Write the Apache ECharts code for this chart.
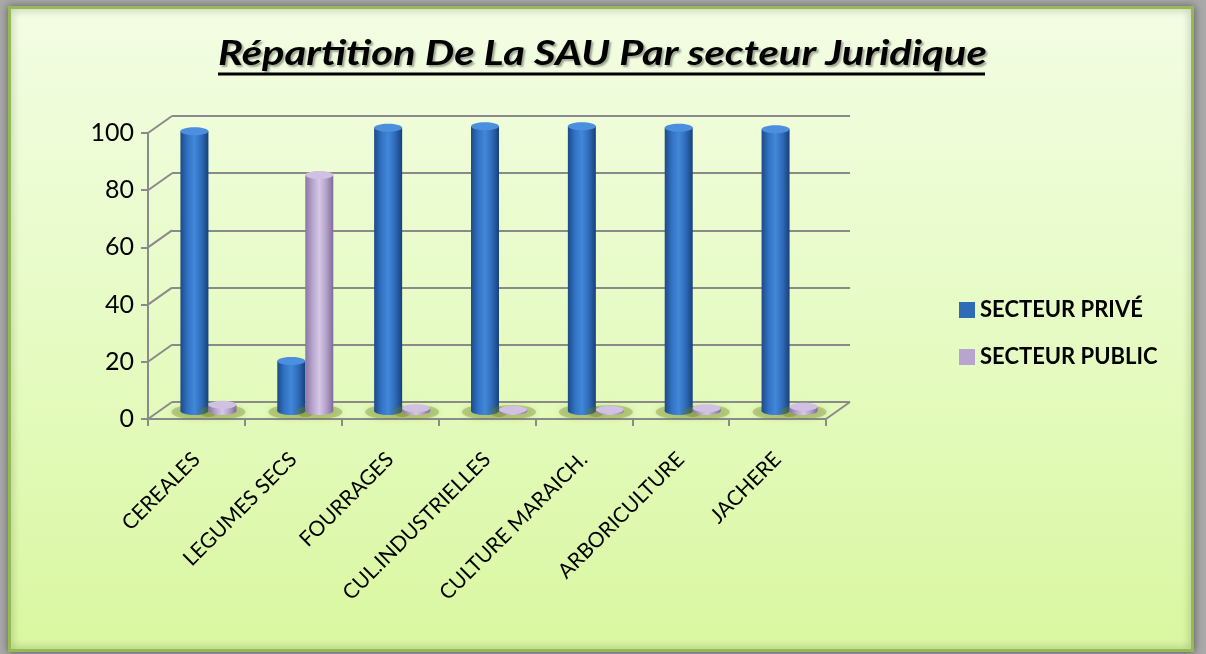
<!DOCTYPE html>
<html>
<head>
<meta charset="UTF-8">
<title>Répartition De La SAU Par secteur Juridique</title>
<script src="https://cdn.jsdelivr.net/npm/echarts@6/dist/echarts.min.js"></script>
<style>
    html, body { margin: 0; padding: 0; background: #a9a9a9; }
    #main { width: 1206px; height: 654px; }
</style>
</head>
<body>
<div id="main"></div>
<script type="text/javascript">
    // données (%)
    var categories = ['CEREALES', 'LEGUMES SECS', 'FOURRAGES', 'CUL.INDUSTRIELLES', 'CULTURE MARAICH.', 'ARBORICULTURE', 'JACHERE'];
    var secteurPrive = [97.8, 17.5, 99, 99.6, 99.6, 99, 98.5];
    var secteurPublic = [2.2, 82.5, 1, 0.4, 0.4, 1, 1.5];
    var seriesNames = ['SECTEUR PRIVÉ', 'SECTEUR PUBLIC'];
    var yTicks = [0, 20, 40, 60, 80, 100];
    var titre = 'Répartition De La SAU Par secteur Juridique';

    // plans avant / arrière / milieu (effet 3D)
    var front = {left: 148, right: 380, top: 133, bottom: 235};
    var back = {left: 172, right: 356, top: 116, bottom: 252};
    var mid = {left: 160, right: 368, top: 125, bottom: 243};
    var gridColor = '#8a8a8a';
    var font = 'Lato';

    function grad(stops) {
        return new echarts.graphic.LinearGradient(0, 0, 1, 0, stops.map(function (c, i) {
            return {offset: i / (stops.length - 1), color: c};
        }));
    }

    var looks = [
        {body: ['#1d4a86', '#3172c4', '#4287d8', '#2e6bb9', '#18407a'], cap: '#4b8fde', color: '#2f6cb8'},
        {body: ['#8a76a3', '#b6a3cc', '#d6c8e6', '#b4a1ca', '#7f6b98'], cap: '#d0c1e2', color: '#b7a4cf'}
    ];

    function cylinder(side, look) {
        var body = grad(look.body);
        return function (params, api) {
            var i = api.value(0), v = api.value(1);
            var base = api.coord([i, 0]);
            var top = api.coord([i, v]);
            var w = 28, rx = w / 2, ry = 4;
            var cx = base[0] + side * rx;
            return {
                type: 'group',
                children: [
                    {type: 'ellipse', shape: {cx: cx, cy: base[1] + 1, rx: rx + 9, ry: ry + 3},
                        style: {fill: 'rgba(110,130,30,0.35)', shadowBlur: 6, shadowColor: 'rgba(100,120,30,0.5)'}},
                    {type: 'rect', shape: {x: cx - rx, y: top[1], width: w, height: base[1] - top[1]}, style: {fill: body}},
                    {type: 'ellipse', shape: {cx: cx, cy: base[1], rx: rx, ry: ry}, style: {fill: body}},
                    {type: 'ellipse', shape: {cx: cx, cy: top[1], rx: rx, ry: ry}, style: {fill: look.cap}}
                ]
            };
        };
    }

    var hiddenCat = {type: 'category', data: categories, show: false, boundaryGap: true};
    var valueAxis = {type: 'value', min: 0, max: 100, interval: 20};

    var chart = echarts.init(document.getElementById('main'));
    chart.setOption({
        backgroundColor: '#a9a9a9',
        animation: false,
        legend: {
            orient: 'vertical',
            left: 954,
            top: 294,
            itemWidth: 16,
            itemHeight: 16,
            itemGap: 25,
            icon: 'rect',
            data: seriesNames,
            textStyle: {fontFamily: font, fontSize: 22, fontWeight: 'bold', color: '#000'}
        },
        grid: [
            Object.assign({outerBoundsMode: 'none'}, front),
            Object.assign({outerBoundsMode: 'none'}, back),
            Object.assign({outerBoundsMode: 'none'}, mid)
        ],
        xAxis: [
            {
                type: 'category', gridIndex: 0, data: categories, boundaryGap: true,
                axisLine: {lineStyle: {color: gridColor, width: 2}},
                axisTick: {show: true, interval: 0, length: 7, lineStyle: {color: gridColor, width: 2}},
                axisLabel: {interval: 0, rotate: 45, margin: 37, fontFamily: font, fontSize: 21, color: '#000'}
            },
            Object.assign({gridIndex: 1}, hiddenCat),
            Object.assign({gridIndex: 2}, hiddenCat)
        ],
        yAxis: [
            Object.assign({
                gridIndex: 0,
                axisLine: {show: true, lineStyle: {color: gridColor, width: 2}},
                axisTick: {show: true, length: 7, lineStyle: {color: gridColor, width: 2}},
                axisLabel: {margin: 14, fontFamily: font, fontSize: 25, color: '#000'},
                splitLine: {show: false}
            }, valueAxis),
            Object.assign({
                gridIndex: 1,
                axisLine: {show: false}, axisTick: {show: false}, axisLabel: {show: false},
                splitLine: {show: true, lineStyle: {color: gridColor, width: 2}}
            }, valueAxis),
            Object.assign({gridIndex: 2, show: false, splitLine: {show: false}}, valueAxis)
        ],
        series: [
            {
                name: seriesNames[0], type: 'custom', xAxisIndex: 2, yAxisIndex: 2,
                itemStyle: {color: looks[0].color},
                renderItem: cylinder(-1, looks[0]),
                data: secteurPrive.map(function (v, i) { return [i, v]; })
            },
            {
                name: seriesNames[1], type: 'custom', xAxisIndex: 2, yAxisIndex: 2,
                itemStyle: {color: looks[1].color},
                renderItem: cylinder(1, looks[1]),
                data: secteurPublic.map(function (v, i) { return [i, v]; })
            }
        ]
    });

    // cadre, fond dégradé, titre souligné et arêtes du décor 3D
    var W = 1206;
    var line = {stroke: gridColor, lineWidth: 2};
    var deco = [
        {
            type: 'rect', z: -100, silent: true,
            shape: {x: 9.5, y: 7.5, width: 1183, height: 643},
            style: {
                fill: new echarts.graphic.LinearGradient(0, 0, 0, 1, [
                    {offset: 0, color: '#f3fde4'},
                    {offset: 0.5, color: '#e6fbc4'},
                    {offset: 1, color: '#d9f7a0'}
                ]),
                stroke: '#95ba55', lineWidth: 3,
                shadowBlur: 8, shadowColor: 'rgba(0,0,0,0.4)'
            }
        },
        {
            type: 'text', silent: true, x: 218, y: 37, scaleX: 1.227,
            style: {
                text: titre, x: 0, y: 0, verticalAlign: 'top',
                font: 'italic bold 34px ' + font, fill: '#000',
                textShadowColor: 'rgba(0,0,0,0.35)', textShadowBlur: 2, textShadowOffsetX: 2, textShadowOffsetY: 2
            }
        },
        {type: 'line', silent: true, shape: {x1: 218, y1: 74, x2: 985, y2: 74}, style: {stroke: '#000', lineWidth: 3}}
    ];
    yTicks.forEach(function (t) {
        var yf = chart.convertToPixel({yAxisIndex: 0}, t);
        var yb = chart.convertToPixel({yAxisIndex: 1}, t);
        deco.push({type: 'line', silent: true, shape: {x1: front.left, y1: yf, x2: back.left, y2: yb}, style: line});
    });
    var y0f = chart.convertToPixel({yAxisIndex: 0}, 0);
    var y0b = chart.convertToPixel({yAxisIndex: 1}, 0);
    deco.push({type: 'line', silent: true, shape: {x1: W - front.right, y1: y0f, x2: W - back.right, y2: y0b}, style: line});
    chart.setOption({graphic: deco});
</script>
</body>
</html>
